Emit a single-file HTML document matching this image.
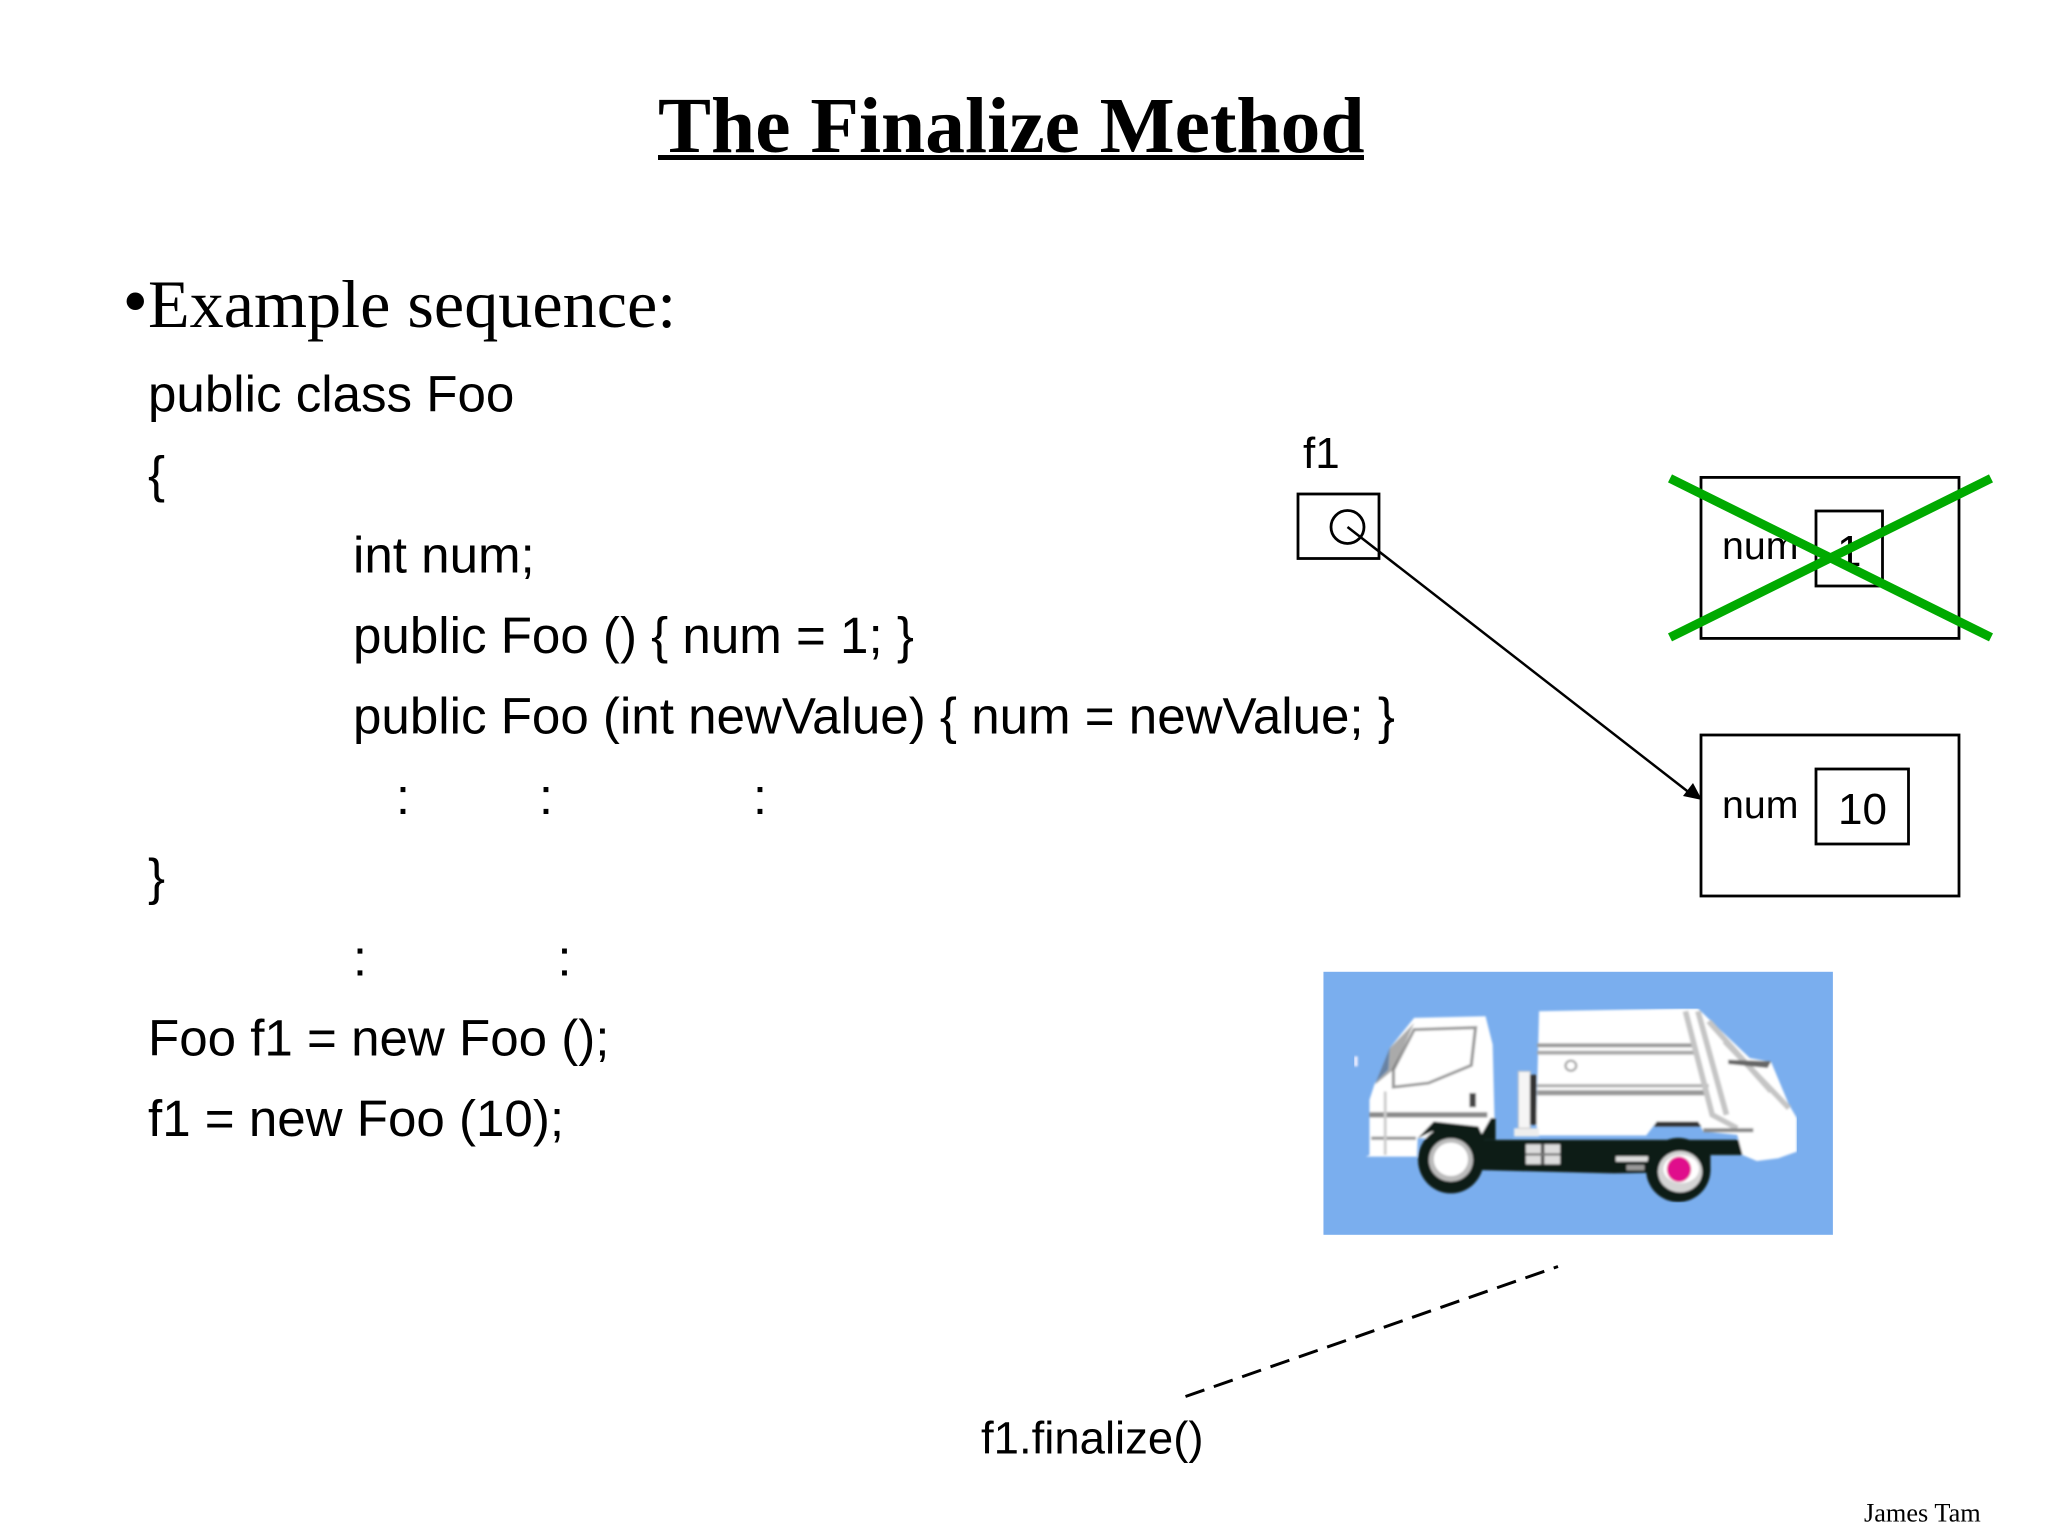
<!DOCTYPE html>
<html>
<head>
<meta charset="utf-8">
<style>
html,body{margin:0;padding:0;background:#fff;width:2048px;height:1536px;overflow:hidden}
svg{display:block}
.c{font-family:"Liberation Sans",sans-serif;font-size:51.100px;fill:#000}
.s{font-family:"Liberation Serif",serif;fill:#000}
.d{font-family:"Liberation Sans",sans-serif;fill:#000}
</style>
</head>
<body>
<svg width="2048" height="1536" viewBox="0 0 2048 1536" xmlns="http://www.w3.org/2000/svg">
<defs><filter id="b" x="0" y="0" width="1" height="1"><feGaussianBlur stdDeviation="3"/></filter></defs>
<rect width="2048" height="1536" fill="#fff"/>
<text class="s" x="658" y="152" font-size="79.500" font-weight="bold">The Finalize Method</text>
<rect x="658" y="155" width="706" height="5" fill="#000"/>
<text class="s" x="122.500" y="325.500" font-size="73">•</text>
<text class="s" x="148" y="327" font-size="68.200">Example sequence:</text>

<text class="c" x="148" y="411.700">public class Foo</text>
<text class="c" x="148" y="492.200">{</text>
<text class="c" x="353" y="572.700">int num;</text>
<text class="c" x="353" y="653.200">public Foo () { num = 1; }</text>
<text class="c" x="353" y="733.700">public Foo (int newValue) { num = newValue; }</text>
<text class="c" x="403" y="814.200" text-anchor="middle">:</text>
<text class="c" x="546" y="814.200" text-anchor="middle">:</text>
<text class="c" x="760" y="814.200" text-anchor="middle">:</text>
<text class="c" x="148" y="894.700">}</text>
<text class="c" x="360" y="975.700" text-anchor="middle">:</text>
<text class="c" x="564.500" y="975.700" text-anchor="middle">:</text>
<text class="c" x="148" y="1055.700">Foo f1 = new Foo ();</text>
<text class="c" x="148" y="1136.200">f1 = new Foo (10);</text>

<!-- f1 reference -->
<text class="d" x="1303" y="468" font-size="44">f1</text>
<rect x="1298" y="494" width="81" height="64.500" fill="none" stroke="#000" stroke-width="2.800"/>
<circle cx="1347.500" cy="527" r="16.500" fill="none" stroke="#000" stroke-width="2.800"/>
<line x1="1347.500" y1="527" x2="1691" y2="794" stroke="#000" stroke-width="2.500"/>
<polygon points="1702,800 1683,796 1693,783" fill="#000"/>

<!-- old object -->
<rect x="1701" y="477.400" width="258" height="161" fill="none" stroke="#000" stroke-width="2.800"/>
<rect x="1816" y="511" width="66.500" height="75" fill="none" stroke="#000" stroke-width="2.800"/>
<text class="d" x="1722" y="559" font-size="39.300">num</text>
<text class="d" x="1837" y="566" font-size="44">1</text>
<line x1="1670" y1="478.400" x2="1991" y2="637.400" stroke="#00aa00" stroke-width="9"/>
<line x1="1670" y1="637.400" x2="1991" y2="478.400" stroke="#00aa00" stroke-width="9"/>

<!-- new object -->
<rect x="1701" y="735" width="258" height="161" fill="none" stroke="#000" stroke-width="2.800"/>
<rect x="1816" y="769" width="92.500" height="75" fill="none" stroke="#000" stroke-width="2.800"/>
<text class="d" x="1722" y="818" font-size="39.300">num</text>
<text class="d" x="1838" y="824" font-size="44">10</text>

<!-- truck -->
<g transform="translate(1310.600,960.100) scale(.357,.3342)">
<rect x="36" y="35" width="1427" height="787" fill="#7aaeee"/>
<g filter="url(#b)" transform="translate(0,-7)">
<path d="M155 595 L165 590 L165 425 L180 375 L218 335 L222 270 L290 180 L490 175 L510 260 L515 480 L500 540 L300 540 L298 595 Z" fill="#fff"/>
<path d="M290 215 L462 209 L450 322 L330 375 L232 387 L232 335 Z" fill="#fff" stroke="#9a9a9a" stroke-width="9"/>
<path d="M222 270 L290 195 L232 335 L180 380 Z" fill="#555" opacity=".5"/>
<rect x="165" y="462" width="330" height="16" fill="#8a8a8a"/>
<rect x="170" y="535" width="125" height="10" fill="#999"/>
<rect x="205" y="400" width="8" height="190" fill="#ccc"/>
<rect x="445" y="405" width="18" height="42" fill="#444"/>
<rect x="122" y="295" width="10" height="30" fill="#eef"/>
<path d="M470 545 L1215 545 L1215 590 L1120 590 L1120 640 L850 645 L470 635 Z" fill="#111a16"/>
<path d="M505 480 L518 480 L518 545 L470 545 Z" fill="#111a16"/>
<path d="M640 160 L1045 152 L1085 152 L1230 300 L1290 312 L1340 440 L1362 480 L1362 580 L1310 600 L1250 608 L1210 590 L1195 530 L1100 520 L1085 490 L970 490 L940 532 L640 532 L632 500 Z" fill="#fff"/>
<path d="M570 510 L640 510 L640 535 L570 535 Z" fill="#eee"/>
<rect x="582" y="340" width="33" height="170" fill="#f5f5f5" stroke="#c5c5c5" stroke-width="3"/>
<rect x="615" y="350" width="18" height="150" fill="#333"/>
<rect x="635" y="256" width="440" height="12" fill="#9a9a9a"/>
<rect x="635" y="278" width="440" height="12" fill="#a8a8a8"/>
<rect x="635" y="378" width="480" height="10" fill="#b0b0b0"/>
<rect x="635" y="396" width="480" height="16" fill="#999"/>
<path d="M1050 160 L1125 470 L1195 510 M1085 160 L1165 470 M1115 190 L1290 400 M1160 250 L1340 450" fill="none" stroke="#c5c5c5" stroke-width="16"/>
<path d="M1170 305 L1290 310 L1280 330 L1170 318 Z" fill="#666"/>
<path d="M970 490 L1085 490 L1095 505 L960 505 Z" fill="#333"/>
<rect x="1100" y="510" width="140" height="12" fill="#888"/>
<circle cx="729" cy="323" r="15" fill="#fff" stroke="#aaa" stroke-width="7"/>
<rect x="603" y="558" width="96" height="60" fill="#ddd"/>
<rect x="645" y="558" width="10" height="60" fill="#555"/>
<rect x="603" y="585" width="96" height="7" fill="#777"/>
<rect x="855" y="594" width="90" height="16" fill="#ddd"/>
<rect x="885" y="620" width="50" height="16" fill="#999"/>
<ellipse cx="393" cy="605" rx="92" ry="100" fill="#111a16"/>
<path d="M300 540 L345 490 L470 505 L505 590 L480 590 L440 520 L340 520 Z" fill="#111a16"/>
<ellipse cx="393" cy="605" rx="62" ry="65" fill="#bbb"/>
<ellipse cx="393" cy="603" rx="48" ry="50" fill="#fff"/>
<ellipse cx="1030" cy="635" rx="90" ry="96" fill="#111a16"/>
<ellipse cx="1035" cy="640" rx="62" ry="62" fill="#d4d4d4"/>
<ellipse cx="1038" cy="632" rx="50" ry="42" fill="#fff"/>
<ellipse cx="1032" cy="633" rx="34" ry="38" fill="#e0108c"/>
</g>
</g>

<line x1="1185.500" y1="1396.500" x2="1558" y2="1266.500" stroke="#000" stroke-width="3" stroke-dasharray="20 10"/>
<text class="d" x="981" y="1453.500" font-size="45.500">f1.finalize()</text>
<text class="s" x="1864" y="1521.500" font-size="26.300">James Tam</text>
</svg>
</body>
</html>
